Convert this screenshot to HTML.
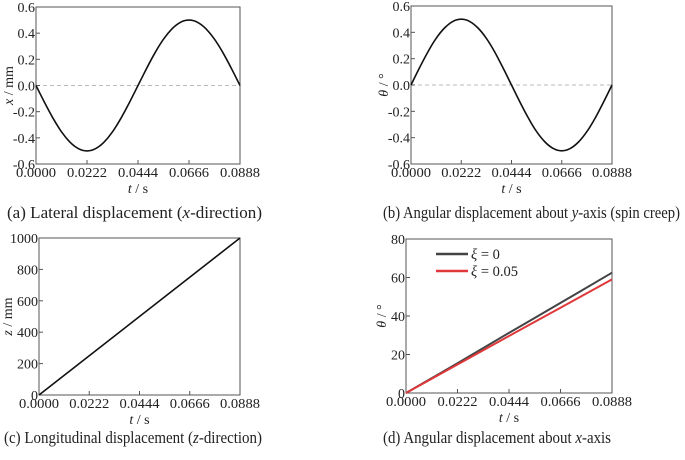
<!DOCTYPE html>
<html><head><meta charset="utf-8"><style>
body{margin:0;background:#fff;width:685px;height:455px;overflow:hidden}
svg text{font-family:"Liberation Serif","Times New Roman",serif;fill:#222}
</style></head><body>
<svg width="685" height="455" id="root"></svg>
<script>
const tTicks=[0,0.0222,0.0444,0.0666,0.0888];
const tTickLabels=["0.0000","0.0222","0.0444","0.0666","0.0888"];
const sineTicks=[-0.6,-0.4,-0.2,0,0.2,0.4,0.6];
const sineTickLabels=["-0.6","-0.4","-0.2","0.0","0.2","0.4","0.6"];
const sampleT=[0,0.0037,0.0074,0.0111,0.0148,0.0185,0.0222,0.0259,0.0296,0.0333,0.037,0.0407,0.0444,0.0481,0.0518,0.0555,0.0592,0.0629,0.0666,0.0703,0.074,0.0777,0.0814,0.0851,0.0888];
const lateralX=[0,-0.129,-0.25,-0.354,-0.433,-0.483,-0.5,-0.483,-0.433,-0.354,-0.25,-0.129,0,0.129,0.25,0.354,0.433,0.483,0.5,0.483,0.433,0.354,0.25,0.129,0];
const spinTheta=[0,0.129,0.25,0.354,0.433,0.483,0.5,0.483,0.433,0.354,0.25,0.129,0,-0.129,-0.25,-0.354,-0.433,-0.483,-0.5,-0.483,-0.433,-0.354,-0.25,-0.129,0];
const zTicks=[0,200,400,600,800,1000];
const zT=[0,0.0888];
const zVals=[0,1000];
const thTicks=[0,20,40,60,80];
const thT=[0,0.0222,0.0444,0.0666,0.0888];
const theta0=[0,15.5,31.2,46.8,62.5];
const theta005=[0,14.8,29.6,44.3,59];

const NS="http://www.w3.org/2000/svg";
const root=document.getElementById('root');
function mk(tag,attrs,parent,text){const e=document.createElementNS(NS,tag);for(const k in attrs)e.setAttribute(k,attrs[k]);if(text!==undefined)e.textContent=text;(parent||root).appendChild(e);return e;}
function smooth(pts){
  let d='M'+pts[0][0].toFixed(1)+','+pts[0][1].toFixed(1);
  for(let i=0;i<pts.length-1;i++){
    const p0=pts[i-1]||pts[i],p1=pts[i],p2=pts[i+1],p3=pts[i+2]||p2;
    const c1=[p1[0]+(p2[0]-p0[0])/6,p1[1]+(p2[1]-p0[1])/6];
    const c2=[p2[0]-(p3[0]-p1[0])/6,p2[1]-(p3[1]-p1[1])/6];
    d+=` C${c1[0].toFixed(1)},${c1[1].toFixed(1)} ${c2[0].toFixed(1)},${c2[1].toFixed(1)} ${p2[0].toFixed(1)},${p2[1].toFixed(1)}`;
  }
  return d;
}

function panel(id,box,yMin,yMax,yTicks,yLabels,yTitle,yOff,caption,series,zeroLine){
  const g=mk('g',{});
  
  
  const sx=v=>box.l+(v-0)/(0.0888)*(box.r-box.l);
  const sy=v=>box.b-(v-yMin)/(yMax-yMin)*(box.b-box.t);
  if(zeroLine){const z=mk('line',{x1:box.l,x2:box.r,y1:sy(0),y2:sy(0),stroke:'#bbb','stroke-dasharray':'4,3','stroke-width':1},g);
    }
  const fr=mk('rect',{x:box.l,y:box.t,width:box.r-box.l,height:box.b-box.t,fill:'none',stroke:'#555','stroke-width':1},g);
  
  tTicks.forEach((v,i)=>{
    mk('line',{x1:sx(v),x2:sx(v),y1:box.b,y2:box.b-4,stroke:'#555'},g);
    const t=mk('text',{x:sx(v),y:box.b+13,'font-size':14,'text-anchor':'middle',textLength:40,lengthAdjust:'spacingAndGlyphs'},g,tTickLabels[i]);
    
  });
  yTicks.forEach((v,i)=>{
    mk('line',{x1:box.l,x2:box.l+4,y1:sy(v),y2:sy(v),stroke:'#555'},g);
    const t=mk('text',{x:box.l-1,y:sy(v)+5,'font-size':14,'text-anchor':'end'},g,yLabels[i]);
    
  });
  const xt=mk('text',{x:(box.l+box.r)/2,y:box.b+29,'font-size':14,'text-anchor':'middle'},g);
  
  mk('tspan',{'font-style':'italic'},xt,'t');mk('tspan',{},xt,' / s');
  const yt=mk('text',{transform:`translate(${box.l-yOff},${(box.t+box.b)/2}) rotate(-90)`,'font-size':14,'text-anchor':'middle'},g);
  
  mk('tspan',{'font-style':'italic'},yt,yTitle[0]);mk('tspan',{},yt,yTitle[1]);
  series.forEach(s=>{
    const pts=s.x.map((v,i)=>[sx(v),sy(s.y[i])]);
    const p=mk('path',{d:smooth(pts),fill:'none',stroke:s.c,'stroke-width':s.w||1.6,'stroke-linejoin':'round'},g);
    
  });
  const c=mk('text',{x:caption.x,y:caption.y,'font-size':16.5,textLength:caption.w,lengthAdjust:'spacingAndGlyphs'},g);
  
  caption.parts.forEach(pt=>mk('tspan',pt[1]?{'font-style':'italic'}:{},c,pt[0]));
  return {g,sx,sy};
}

panel('panel-a-lateral',{l:36,r:240,t:7,b:164},-0.6,0.6,sineTicks,sineTickLabels,['x',' / mm'],23,
 {x:7,y:218,w:255,parts:[['(a) Lateral displacement ('],['x',1],['-direction)']]},
 [{name:'lateral-displacement-line',x:sampleT,y:lateralX,c:'#111'}],true);
panel('panel-b-spin',{l:411,r:612,t:6,b:164},-0.6,0.6,sineTicks,sineTickLabels,['θ',' / °'],23,
 {x:383,y:218,w:297,parts:[['(b) Angular displacement about '],['y',1],['-axis (spin creep)']]},
 [{name:'angular-y-line',x:sampleT,y:spinTheta,c:'#111'}],true);
panel('panel-c-longitudinal',{l:39,r:240,t:238,b:395},0,1000,zTicks,zTicks.map(String),['z',' / mm'],27,
 {x:4,y:443,w:258,parts:[['(c) Longitudinal displacement ('],['z',1],['-direction)']]},
 [{name:'longitudinal-displacement-line',x:zT,y:zVals,c:'#111'}],false);
const pd=panel('panel-d-angular-x',{l:406,r:612,t:239,b:393},0,80,thTicks,thTicks.map(String),['θ',' / °'],20,
 {x:383,y:443,w:228,parts:[['(d) Angular displacement about '],['x',1],['-axis']]},
 [{name:'xi-0-line',x:thT,y:theta0,c:'#444',w:2},{name:'xi-005-line',x:thT,y:theta005,c:'#e0383a',w:2}],false);
const leg=mk('g',{},pd.g);

[['#444','0',254],['#e0383a','0.05',271]].forEach(e=>{
  const en=mk('g',{},leg);
  
  mk('line',{x1:436,x2:468,y1:e[2],y2:e[2],stroke:e[0],'stroke-width':2.4},en);
  const t=mk('text',{x:471,y:e[2]+5,'font-size':14.5},en);
  mk('tspan',{'font-style':'italic'},t,'ξ');mk('tspan',{},t,' = '+e[1]);
});
</script>
</body></html>
